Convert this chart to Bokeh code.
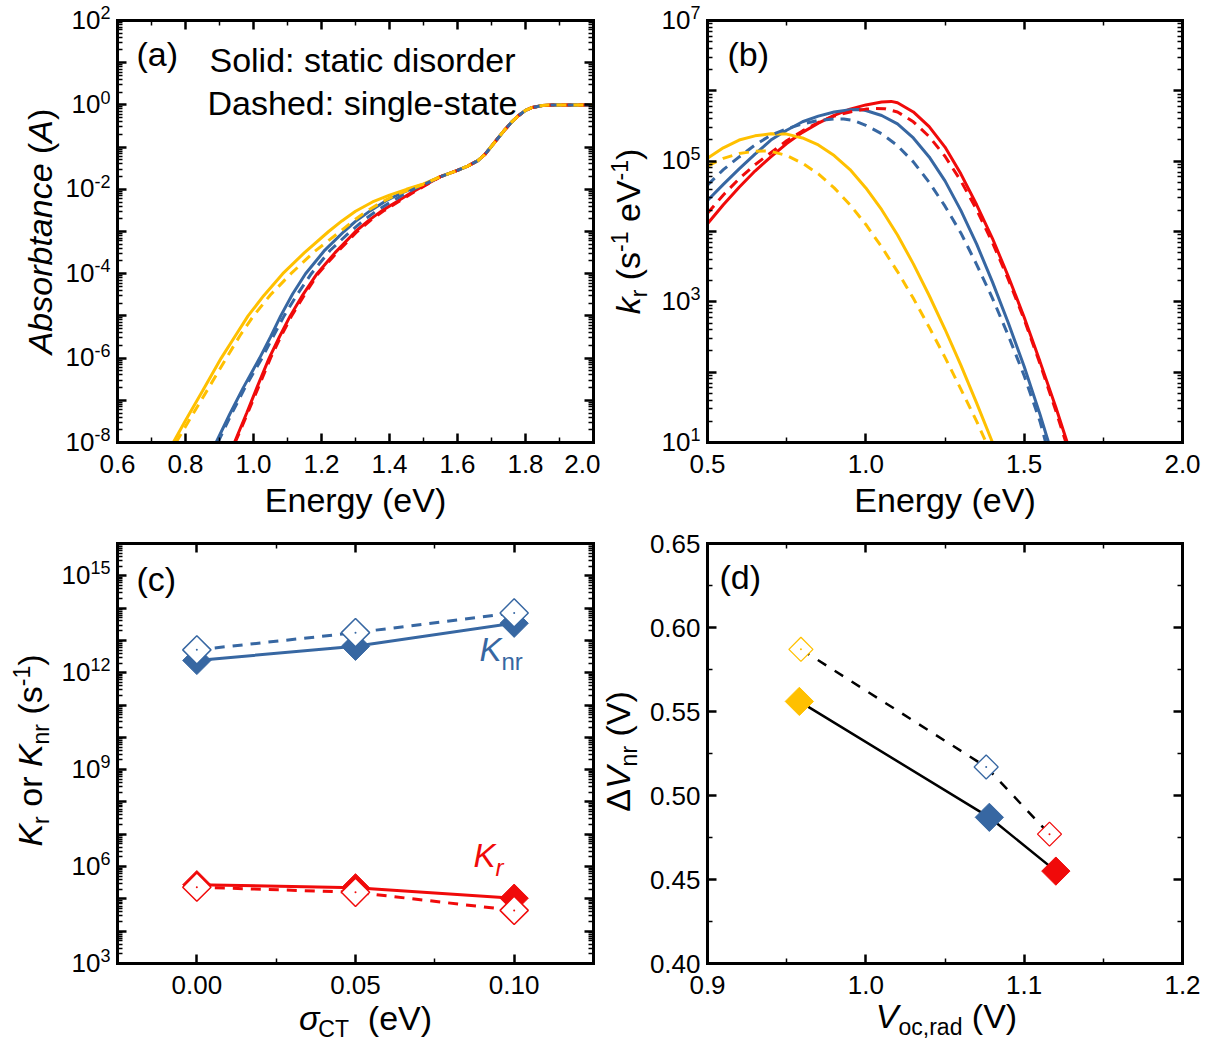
import math
import numpy as np
from bokeh.plotting import figure
from bokeh.models import FixedTicker, LinearAxis, LogAxis, Label, Range1d, CustomJSTickFormatter
from bokeh.layouts import column, row
from bokeh.embed import file_html
from bokeh.resources import INLINE

FONT = "Liberation Sans"
YEL = "#FFC000"
BLU = "#3767A2"
RED = "#F00A0A"

# ---------------- data ----------------
# (a) absorptance, log10 values read from the log axis
a_tail_E = [1.55, 1.60, 1.63, 1.66, 1.68, 1.70, 1.72, 1.74, 1.76, 1.78, 1.80, 1.82, 1.85, 1.88, 2.00]
a_tail_log10A = [-1.70, -1.55, -1.45, -1.32, -1.18, -0.98, -0.78, -0.58, -0.40, -0.25, -0.13, -0.06, -0.015, 0.0, 0.0]

a_yel_solid_E = [0.764, 0.80, 0.85, 0.905, 0.95, 0.984, 1.03, 1.086, 1.15, 1.221, 1.26, 1.30, 1.35, 1.40, 1.45, 1.50]
a_yel_solid_log10A = [-8.0, -7.48, -6.78, -6.0, -5.43, -5.0, -4.52, -4.0, -3.5, -3.0, -2.75, -2.52, -2.30, -2.14, -2.0, -1.87]
a_yel_dash_E = [0.772, 0.82, 0.87, 0.92, 0.96, 1.0, 1.05, 1.11, 1.18, 1.255, 1.29, 1.33, 1.38, 1.42, 1.46, 1.50]
a_yel_dash_log10A = [-8.0, -7.35, -6.68, -6.0, -5.47, -5.0, -4.5, -4.0, -3.47, -3.0, -2.77, -2.53, -2.29, -2.13, -2.0, -1.88]
a_blu_solid_E = [0.890, 0.93, 0.97, 1.018, 1.05, 1.08, 1.115, 1.153, 1.21, 1.266, 1.30, 1.345, 1.39, 1.44, 1.48, 1.50]
a_blu_solid_log10A = [-8.0, -7.33, -6.7, -6.0, -5.5, -5.0, -4.48, -4.0, -3.44, -3.0, -2.76, -2.5, -2.27, -2.07, -1.95, -1.89]
a_blu_dash_E = [0.895, 0.935, 0.975, 1.025, 1.057, 1.09, 1.128, 1.17, 1.225, 1.285, 1.32, 1.36, 1.40, 1.44, 1.47, 1.50]
a_blu_dash_log10A = [-8.0, -7.33, -6.7, -6.0, -5.5, -5.0, -4.5, -4.0, -3.45, -3.0, -2.76, -2.52, -2.32, -2.13, -2.0, -1.89]
a_red_solid_E = [0.944, 0.98, 1.01, 1.046, 1.076, 1.108, 1.145, 1.187, 1.24, 1.30, 1.34, 1.379, 1.42, 1.46, 1.50]
a_red_solid_log10A = [-8.0, -7.3, -6.7, -6.0, -5.5, -5.0, -4.5, -4.0, -3.5, -3.0, -2.73, -2.5, -2.3, -2.1, -1.92]
a_red_dash_E = [0.946, 0.983, 1.014, 1.05, 1.08, 1.112, 1.15, 1.19, 1.245, 1.305, 1.345, 1.385, 1.425, 1.465, 1.50]
a_red_dash_log10A = [-8.0, -7.3, -6.7, -6.0, -5.5, -5.0, -4.5, -4.0, -3.5, -3.0, -2.73, -2.5, -2.3, -2.1, -1.93]

# (b) k_r spectra, log10 values
b_red_solid_E = [0.5, 0.55, 0.6, 0.65, 0.7, 0.75, 0.8, 0.85, 0.9, 0.95, 1.0, 1.05, 1.08, 1.1,
                 1.15, 1.2, 1.25, 1.3, 1.35, 1.4, 1.45, 1.5, 1.55, 1.6, 1.636]
b_red_solid_log10k = [4.11, 4.38, 4.63, 4.86, 5.06, 5.25, 5.41, 5.54, 5.65, 5.74, 5.80, 5.84, 5.85, 5.83,
                      5.70, 5.49, 5.20, 4.82, 4.38, 3.90, 3.36, 2.78, 2.15, 1.50, 1.0]
b_red_dash_E = [0.5, 0.55, 0.6, 0.65, 0.7, 0.75, 0.8, 0.85, 0.9, 0.95, 1.0, 1.03, 1.06, 1.1,
                1.15, 1.2, 1.25, 1.3, 1.35, 1.4, 1.45, 1.5, 1.55, 1.6, 1.632]
b_red_dash_log10k = [4.26, 4.52, 4.75, 4.95, 5.12, 5.29, 5.43, 5.55, 5.64, 5.70, 5.74, 5.75, 5.745, 5.70,
                     5.56, 5.35, 5.07, 4.72, 4.31, 3.84, 3.32, 2.75, 2.12, 1.45, 1.0]
b_blu_solid_E = [0.5, 0.55, 0.6, 0.65, 0.7, 0.75, 0.8, 0.85, 0.9, 0.95, 0.98, 1.0, 1.05, 1.1,
                 1.15, 1.2, 1.25, 1.3, 1.35, 1.4, 1.45, 1.5, 1.55, 1.577]
b_blu_solid_log10k = [4.44, 4.67, 4.89, 5.10, 5.30, 5.44, 5.56, 5.64, 5.70, 5.73, 5.735, 5.72, 5.65, 5.53,
                      5.33, 5.06, 4.72, 4.30, 3.82, 3.28, 2.70, 2.08, 1.40, 1.0]
b_blu_dash_E = [0.5, 0.55, 0.6, 0.65, 0.7, 0.75, 0.8, 0.85, 0.9, 0.93, 0.96, 1.0, 1.05, 1.1,
                1.15, 1.2, 1.25, 1.3, 1.35, 1.4, 1.45, 1.5, 1.55, 1.568]
b_blu_dash_log10k = [4.66, 4.88, 5.06, 5.23, 5.37, 5.46, 5.53, 5.58, 5.60, 5.60, 5.58, 5.51, 5.39, 5.22,
                     4.99, 4.70, 4.36, 3.98, 3.53, 3.05, 2.52, 1.95, 1.30, 1.0]
b_yel_solid_E = [0.5, 0.55, 0.6, 0.65, 0.7, 0.75, 0.8, 0.85, 0.9, 0.95, 1.0, 1.05, 1.1,
                 1.15, 1.2, 1.25, 1.3, 1.35, 1.4]
b_yel_solid_log10k = [5.04, 5.19, 5.30, 5.36, 5.39, 5.385, 5.33, 5.23, 5.08, 4.88, 4.62, 4.31, 3.95,
                      3.54, 3.09, 2.61, 2.10, 1.56, 1.0]
b_yel_dash_E = [0.5, 0.55, 0.6, 0.65, 0.68, 0.7, 0.75, 0.8, 0.85, 0.9, 0.95, 1.0, 1.05, 1.1,
                1.15, 1.2, 1.25, 1.3, 1.35, 1.38]
b_yel_dash_log10k = [4.93, 5.04, 5.11, 5.14, 5.145, 5.14, 5.08, 4.97, 4.82, 4.62, 4.38, 4.10, 3.78, 3.43,
                     3.05, 2.64, 2.21, 1.76, 1.30, 1.0]

# (c) rates vs sigma_CT
c_sigma = [0.00, 0.05, 0.10]
c_Knr_solid = [2.4e12, 6.6e12, 3.4e13]
c_Knr_dash = [5.1e12, 1.74e13, 7.1e13]
c_Kr_solid = [2.75e5, 2.2e5, 1.05e5]
c_Kr_dash = [2.3e5, 1.6e5, 4.4e4]

# (d) dV_nr vs Voc,rad
d_colors = [YEL, BLU, RED]
d_Voc_solid = [0.958, 1.078, 1.120]
d_dV_solid = [0.556, 0.487, 0.455]
d_Voc_dash = [0.959, 1.076, 1.116]
d_dV_dash = [0.587, 0.517, 0.477]

# ---------------- helpers ----------------
AW = {' ': .278, '(': .333, ')': .333, ',': .278, '-': .333, '.': .278, ':': .278,
      'A': .667, 'C': .722, 'D': .722, 'E': .667, 'K': .667, 'S': .667, 'T': .611, 'V': .667,
      'a': .556, 'b': .556, 'c': .5, 'd': .556, 'e': .556, 'g': .556, 'h': .556, 'i': .222,
      'k': .5, 'l': .222, 'n': .556, 'o': .556, 'r': .333, 's': .5, 't': .278, 'y': .5,
      '\u03c3': .57, '\u0394': .668}
CORR = 0.38  # baseline correction (fraction of font size)
TICK_FS = "26px"


def tw(s):
    return sum(AW.get(ch, .556) for ch in s)


def rich(p, xd, yd, dx, dy, pieces, align="center", vertical=False, color="black"):
    """pieces: (text, size_px, style, rise_px); dx, dy: pixel offsets from the data anchor (dy downward)
    to the start of the baseline."""
    total = sum(tw(t) * s for t, s, st, r in pieces)
    cum = {"left": 0.0, "center": -total / 2.0, "right": -total}[align]
    for t, s, st, r in pieces:
        lead = len(t) - len(t.lstrip(' '))
        core = t.strip(' ')
        u = cum + tw(' ' * lead) * s
        if core:
            if vertical:
                ox, oy, ang = dx - r - CORR * s, dy - u, np.pi / 2
            else:
                ox, oy, ang = dx + u, dy - r - CORR * s, 0.0
            p.add_layout(Label(x=xd, y=yd, x_offset=ox, y_offset=-oy, text=core,
                               text_font=FONT, text_font_size=f"{s}px", text_font_style=st,
                               text_color=color, text_align="left", text_baseline="alphabetic",
                               angle=ang))
        cum += tw(t) * s


def style_axis(ax, ticker, labels=False, fmt_digits=1):
    ax.ticker = ticker
    if labels:
        ax.formatter = CustomJSTickFormatter(code=f"return tick.toFixed({fmt_digits})")
        ax.major_label_text_font = FONT
        ax.major_label_text_font_size = TICK_FS
        ax.major_label_text_color = "black"
        ax.major_label_standoff = 12
    else:
        ax.formatter = CustomJSTickFormatter(code="return ''")
        ax.major_label_text_font_size = "0px"
        ax.major_label_standoff = 0
    ax.axis_label = None
    ax.axis_line_width = 3
    ax.axis_line_color = "black"
    ax.axis_line_cap = "square"
    ax.major_tick_in = 9
    ax.major_tick_out = 0
    ax.minor_tick_in = 5
    ax.minor_tick_out = 0
    ax.major_tick_line_width = 2.5
    ax.minor_tick_line_width = 1.5
    ax.major_tick_line_color = "black"
    ax.minor_tick_line_color = "black"


def make_fig(W, H, box, xv, yv, ylog, xt, xmt, yt, ymt, xdig, ydig=None):
    """box: pixel box (left, right, top, bottom) inside a W x H canvas whose frame fills the canvas;
    xv, yv: data values at the box edges (x0, x1), (ybottom, ytop)."""
    bl, br, bt, bb = box
    kx = (xv[1] - xv[0]) / (br - bl)
    xr = (xv[0] - bl * kx, xv[1] + (W - br) * kx)
    if ylog:
        lb, lt = math.log10(yv[0]), math.log10(yv[1])
        ky = (lt - lb) / (bb - bt)
        yr = (10 ** (lb - (H - bb) * ky), 10 ** (lt + bt * ky))
    else:
        ky = (yv[1] - yv[0]) / (bb - bt)
        yr = (yv[0] - (H - bb) * ky, yv[1] + bt * ky)
    p = figure(width=W, height=H, x_range=Range1d(*xr), y_range=Range1d(*yr),
               y_axis_type="log" if ylog else "linear",
               output_backend="svg", toolbar_location=None,
               min_border_left=0, min_border_right=0, min_border_top=0, min_border_bottom=0)
    p.xgrid.visible = False
    p.ygrid.visible = False
    p.outline_line_color = None
    p.background_fill_color = "white"
    p.border_fill_color = "white"
    xb = p.xaxis[0]
    style_axis(xb, FixedTicker(ticks=xt, minor_ticks=xmt), labels=True, fmt_digits=xdig)
    xb.fixed_location = yv[0]
    xb.bounds = (xv[0], xv[1])
    yl = p.yaxis[0]
    style_axis(yl, FixedTicker(ticks=yt, minor_ticks=ymt), labels=(ydig is not None),
               fmt_digits=(ydig or 0))
    if ydig is not None:
        yl.major_label_standoff = 7
    yl.fixed_location = xv[0]
    yl.bounds = (yv[0], yv[1])
    top_ax = LinearAxis(fixed_location=yv[1], bounds=(xv[0], xv[1]))
    style_axis(top_ax, FixedTicker(ticks=xt, minor_ticks=xmt))
    p.add_layout(top_ax, "above")
    right_ax = (LogAxis if ylog else LinearAxis)(fixed_location=xv[1], bounds=(yv[0], yv[1]))
    style_axis(right_ax, FixedTicker(ticks=yt, minor_ticks=ymt))
    p.add_layout(right_ax, "right")
    return p


def decades(lo, hi):
    return [10.0 ** n for n in range(lo, hi + 1)]


def minor_decades(lo, hi):
    return [m * 10.0 ** n for n in range(lo, hi) for m in range(2, 10)]


def y_ticklabels_log(p, exps, xstart):
    for n in exps:
        rich(p, xstart, 10.0 ** n, -7, 9,
             [("10", 26, "normal", 0), (str(n), 18, "normal", 10)], align="right")


def pw(v):
    return [10.0 ** x for x in v]


T = 34  # title font size
LW = 3
DASH = "10 7"

# ---------------- panel (a) ----------------
a_xt = [0.6, 0.8, 1.0, 1.2, 1.4, 1.6, 1.8, 2.0]
a_xmt = [0.7, 0.9, 1.1, 1.3, 1.5, 1.7, 1.9]
pa = make_fig(600, 524, (117, 593, 20, 442), (0.6, 2.0), (1e-8, 1e2), True,
              a_xt, a_xmt, decades(-8, 2), minor_decades(-8, 2), 1)
pa.line(a_red_solid_E + a_tail_E, pw(a_red_solid_log10A + a_tail_log10A), color=RED, line_width=LW)
pa.line(a_blu_solid_E + a_tail_E, pw(a_blu_solid_log10A + a_tail_log10A), color=BLU, line_width=LW)
pa.line(a_yel_solid_E + a_tail_E, pw(a_yel_solid_log10A + a_tail_log10A), color=YEL, line_width=LW)
pa.line(a_red_dash_E + a_tail_E, pw(a_red_dash_log10A + a_tail_log10A), color=RED, line_width=LW, line_dash=DASH)
pa.line(a_blu_dash_E + a_tail_E, pw(a_blu_dash_log10A + a_tail_log10A), color=BLU, line_width=LW, line_dash=DASH)
pa.line(a_yel_dash_E + a_tail_E, pw(a_yel_dash_log10A + a_tail_log10A), color=YEL, line_width=LW, line_dash=DASH)

y_ticklabels_log(pa, [-8, -6, -4, -2, 0, 2], 0.6)
rich(pa, 0.6, 1e2, -65, 211, [("Absorbtance ", T, "italic", 0), ("(", T, "normal", 0),
                              ("A", T, "italic", 0), (")", T, "normal", 0)], vertical=True)
rich(pa, 0.6, 1e2, 238, 492, [("Energy (eV)", T, "normal", 0)])
rich(pa, 0.6, 1e2, 19, 46, [("(a)", T, "normal", 0)], align="left")
rich(pa, 0.6, 1e2, 245, 52, [("Solid: static disorder", T, "normal", 0)])
rich(pa, 0.6, 1e2, 245, 95, [("Dashed: single-state", T, "normal", 0)])

# ---------------- panel (b) ----------------
b_xt = [0.5, 1.0, 1.5, 2.0]
b_xmt = [0.75, 1.25, 1.75]
pb = make_fig(610, 524, (107, 582, 20, 442), (0.5, 2.0), (1e1, 1e7), True,
              b_xt, b_xmt, decades(1, 7), minor_decades(1, 7), 1)
pb.line(b_red_solid_E, pw(b_red_solid_log10k), color=RED, line_width=LW)
pb.line(b_blu_solid_E, pw(b_blu_solid_log10k), color=BLU, line_width=LW)
pb.line(b_yel_solid_E, pw(b_yel_solid_log10k), color=YEL, line_width=LW)
pb.line(b_red_dash_E, pw(b_red_dash_log10k), color=RED, line_width=LW, line_dash=DASH)
pb.line(b_blu_dash_E, pw(b_blu_dash_log10k), color=BLU, line_width=LW, line_dash=DASH)
pb.line(b_yel_dash_E, pw(b_yel_dash_log10k), color=YEL, line_width=LW, line_dash=DASH)

y_ticklabels_log(pb, [1, 3, 5, 7], 0.5)
rich(pb, 0.5, 1e7, -67, 211, [("k", T, "italic", 0), ("r", 23, "normal", -7), (" (s", T, "normal", 0),
                              ("-1", 23, "normal", 12), (" eV", T, "normal", 0),
                              ("-1", 23, "normal", 12), (")", T, "normal", 0)], vertical=True)
rich(pb, 0.5, 1e7, 237.5, 492, [("Energy (eV)", T, "normal", 0)])
rich(pb, 0.5, 1e7, 20, 46, [("(b)", T, "normal", 0)], align="left")

# ---------------- panel (c) ----------------
c_xt = [0.0, 0.05, 0.10]
c_xmt = [0.025, 0.075]
pc = make_fig(600, 529, (117, 593, 19, 439), (-0.025, 0.125), (1e3, 1e16), True,
              c_xt, c_xmt, decades(3, 16), minor_decades(3, 16), 2)
MS = 20
pc.line(c_sigma, c_Knr_solid, color=BLU, line_width=3)
pc.line(c_sigma, c_Knr_dash, color=BLU, line_width=3, line_dash="10 8")
pc.line(c_sigma, c_Kr_solid, color=RED, line_width=3)
pc.line(c_sigma, c_Kr_dash, color=RED, line_width=3, line_dash="10 8")
pc.scatter(c_sigma, c_Knr_solid, marker="square", angle=np.pi / 4, size=MS, fill_color=BLU, line_color=BLU)
pc.scatter(c_sigma, c_Kr_solid, marker="square", angle=np.pi / 4, size=MS, fill_color=RED, line_color=RED)
pc.scatter(c_sigma, c_Knr_dash, marker="square", angle=np.pi / 4, size=MS, fill_color="white", line_color=BLU, line_width=1.5)
pc.scatter(c_sigma, c_Kr_dash, marker="square", angle=np.pi / 4, size=MS, fill_color="white", line_color=RED, line_width=1.5)
pc.scatter(c_sigma, c_Knr_dash, marker="circle", size=2, fill_color=BLU, line_color=None)
pc.scatter(c_sigma, c_Kr_dash, marker="circle", size=2, fill_color=RED, line_color=None)

y_ticklabels_log(pc, [3, 6, 9, 12, 15], -0.025)
rich(pc, -0.025, 1e16, -75, 207, [("K", T, "italic", 0), ("r", 23, "normal", -7), (" or ", T, "normal", 0),
                                  ("K", T, "italic", 0), ("nr", 23, "normal", -7), (" (s", T, "normal", 0),
                                  ("-1", 23, "normal", 12), (")", T, "normal", 0)], vertical=True)
rich(pc, -0.025, 1e16, 248, 487, [("\u03c3", T, "italic", 0), ("CT", 23, "normal", -7),
                                  ("  (eV)", T, "normal", 0)])
rich(pc, -0.025, 1e16, 19, 48, [("(c)", T, "normal", 0)], align="left")
rich(pc, -0.025, 1e16, 362, 119, [("K", 33, "italic", 0), ("nr", 24, "normal", -8)], align="left", color=BLU)
rich(pc, -0.025, 1e16, 356, 325, [("K", 33, "italic", 0), ("r", 24, "italic", -8)], align="left", color=RED)

# ---------------- panel (d) ----------------
d_xt = [0.9, 1.0, 1.1, 1.2]
d_xmt = [0.95, 1.05, 1.15]
d_yt = [0.40, 0.45, 0.50, 0.55, 0.60, 0.65]
d_ymt = [0.425, 0.475, 0.525, 0.575, 0.625]
pd_ = make_fig(610, 529, (107, 582, 19, 439), (0.9, 1.2), (0.40, 0.65), False,
               d_xt, d_xmt, d_yt, d_ymt, 1, 2)
pd_.line(d_Voc_solid, d_dV_solid, color="black", line_width=2.5)
pd_.line(d_Voc_dash, d_dV_dash, color="black", line_width=2.5, line_dash="10 10")
pd_.scatter(d_Voc_solid, d_dV_solid, marker="square", angle=np.pi / 4, size=20,
            fill_color=d_colors, line_color=d_colors)
pd_.scatter(d_Voc_dash, d_dV_dash, marker="square", angle=np.pi / 4, size=17,
            fill_color="white", line_color=d_colors, line_width=1.3)
pd_.scatter(d_Voc_dash, d_dV_dash, marker="circle", size=2, fill_color=d_colors, line_color=None)

rich(pd_, 0.9, 0.65, -77, 208, [("\u0394", T, "normal", 0), ("V", T, "italic", 0),
                                ("nr", 23, "normal", -7), (" (V)", T, "normal", 0)], vertical=True)
rich(pd_, 0.9, 0.65, 239, 485, [("V", T, "italic", 0), ("oc,rad", 23, "normal", -7),
                                (" (V)", T, "normal", 0)])
rich(pd_, 0.9, 0.65, 12, 46, [("(d)", T, "normal", 0)], align="left")

layout = column(row(pa, pb), row(pc, pd_))
open("out.html", "w").write(file_html(layout, INLINE))
